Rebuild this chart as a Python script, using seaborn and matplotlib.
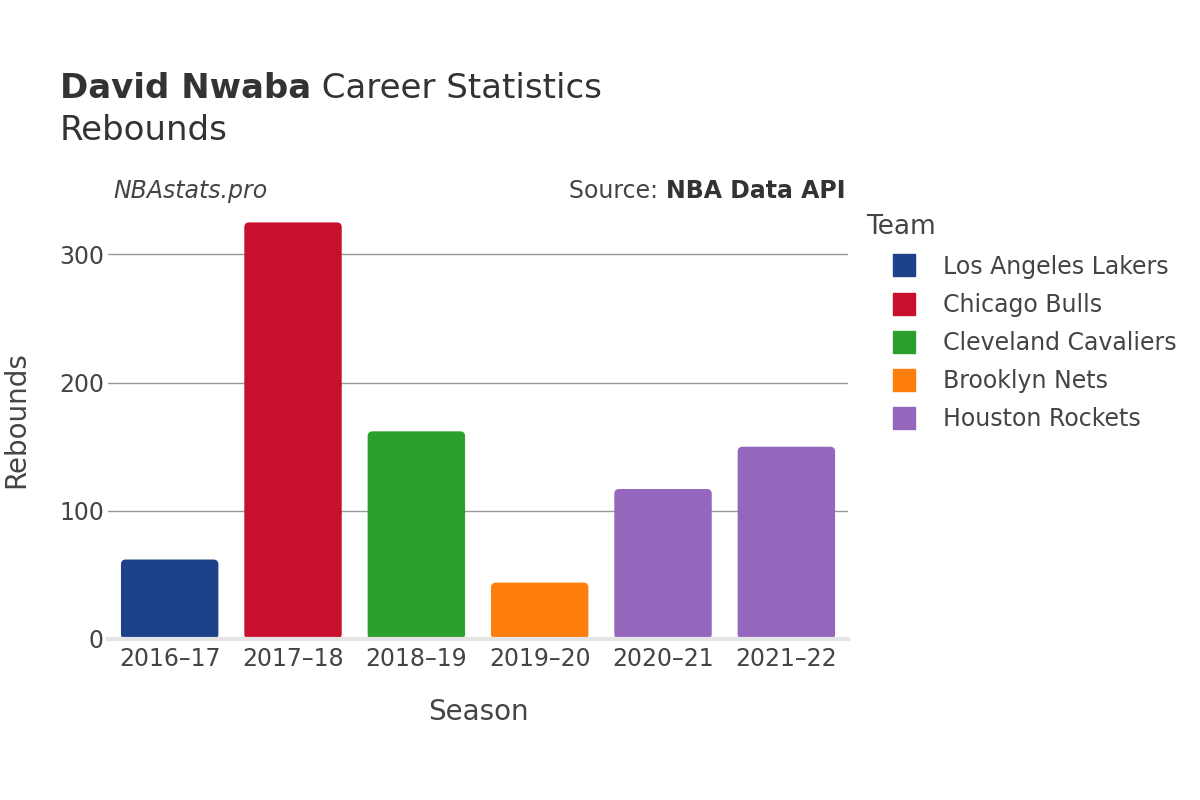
#---------------- David Nwaba - Rebounds ----------------#
import numpy as np
import pandas as pd
import matplotlib
matplotlib.use('Agg')
import matplotlib.pyplot as plt
import seaborn as sns
from matplotlib.lines import Line2D
from matplotlib.patches import FancyBboxPatch

#Daten
seasons = ['2016–17', '2017–18', '2018–19', '2019–20', '2020–21', '2021–22']
teams = ['Los Angeles Lakers', 'Chicago Bulls', 'Cleveland Cavaliers', 'Brooklyn Nets',
         'Houston Rockets', 'Houston Rockets']
rebounds = [62, 325, 162, 44, 117, 150]
team_order = ['Los Angeles Lakers', 'Chicago Bulls', 'Cleveland Cavaliers', 'Brooklyn Nets', 'Houston Rockets']
team_colors = ['#1d428a', '#c8102e', '#2ca02c', '#ff7f0e', '#9467bd']
y_ticks = [0, 100, 200, 300]

df = pd.DataFrame({'Season': seasons, 'Team': teams, 'Rebounds': rebounds})
palette = dict(zip(team_order, team_colors))

#Stil
sns.set_theme(style='white')
plt.rcParams['font.family'] = ['DejaVu Sans']
text_col = '#444444'

fig = plt.figure(figsize=(12, 8), dpi=100)
ax = fig.add_axes([0.09, 0.20125, 0.6167, 0.548])

sns.barplot(data=df, x='Season', y='Rebounds', hue='Team', hue_order=team_order,
            palette=palette, dodge=False, width=0.79, saturation=1, legend=False, ax=ax)

ax.set_xlim(-0.5, 5.5)
ax.set_ylim(0, 342)

#Balken mit runden Ecken
aspect = (342 / 438.0) / (6 / 740.0)
for p in list(ax.patches):
    x, y = p.get_x(), p.get_y()
    w, h = p.get_width(), p.get_height()
    if h == 0 or np.isnan(h):
        p.remove()
        continue
    rb = FancyBboxPatch((x, y), w, h, boxstyle='round,pad=0,rounding_size=0.04',
                        mutation_aspect=aspect, facecolor=p.get_facecolor(),
                        edgecolor='none', zorder=2)
    p.remove()
    ax.add_patch(rb)

ax.set_yticks(y_ticks)
ax.set_axisbelow(True)
ax.yaxis.grid(True, color='#999999', linewidth=1)
ax.xaxis.grid(False)
for s in ['top', 'right', 'left']:
    ax.spines[s].set_visible(False)
ax.spines['bottom'].set_color('#e5e5e5')
ax.spines['bottom'].set_linewidth(3)
ax.spines['bottom'].set_zorder(3)
ax.tick_params(axis='both', length=0, labelsize=17, labelcolor=text_col)
ax.tick_params(axis='x', pad=6)
ax.tick_params(axis='y', pad=3)
ax.set_xlabel('Season', fontsize=20, color=text_col, labelpad=19)
ax.set_ylabel('Rebounds', fontsize=20, color=text_col)
ax.yaxis.set_label_coords(-0.105, 0.5)

#Titel
renderer = fig.canvas.get_renderer()
t1 = fig.text(60 / 1200, 1 - 88 / 800, 'David Nwaba', fontsize=24.5, fontweight='bold',
              color='#333333', va='center', ha='left')
bb = t1.get_window_extent(renderer=renderer)
fig.text(bb.x1 / 1200, 1 - 88 / 800, ' Career Statistics', fontsize=24.5,
         color='#333333', va='center', ha='left')
fig.text(60 / 1200, 1 - 131 / 800, 'Rebounds', fontsize=24.5, color='#333333', va='center', ha='left')

fig.text(113 / 1200, 1 - 191 / 800, 'NBAstats.pro', fontsize=17, style='italic',
         color=text_col, va='center', ha='left')
t2 = fig.text(845 / 1200, 1 - 191 / 800, 'NBA Data API', fontsize=17, fontweight='bold',
              color='#333333', va='center', ha='right')
bb2 = t2.get_window_extent(renderer=renderer)
fig.text(bb2.x0 / 1200, 1 - 191 / 800, 'Source: ', fontsize=17, color=text_col,
         va='center', ha='right')

#Legende
handles = [Line2D([0], [0], marker='s', linestyle='', markersize=16,
                  markerfacecolor=palette[t], markeredgecolor=palette[t]) for t in team_order]
leg = fig.legend(handles, team_order, title='Team', loc='upper left',
                 bbox_to_anchor=(857 / 1200, 1 - 205 / 800), frameon=False,
                 fontsize=17, title_fontsize=19, labelspacing=0.6,
                 handlelength=3.2, handletextpad=0.03, borderaxespad=0)
leg._legend_box.align = 'left'
for txt in leg.get_texts():
    txt.set_color(text_col)
leg.get_title().set_color(text_col)

fig.savefig('out.png', dpi=100, facecolor='white')
